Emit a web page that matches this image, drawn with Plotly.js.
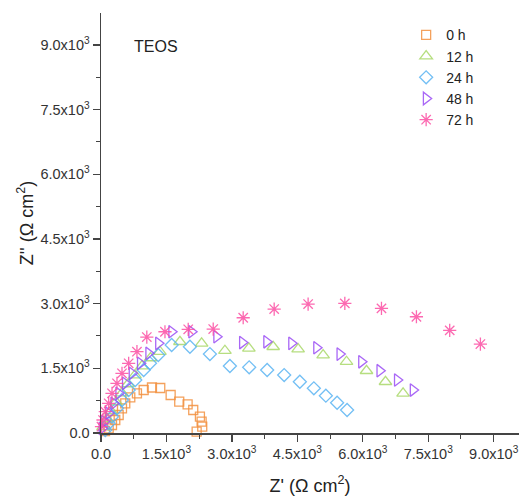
<!DOCTYPE html>
<html>
<head>
<meta charset="utf-8">
<script src="https://cdn.plot.ly/plotly-3.0.1.min.js"></script>
<style>html,body{margin:0;padding:0;background:#fff;}#chart{width:520px;height:496px;}</style>
</head>
<body>
<div id="chart"></div>
<script>
// Data (Z' , Z'' in ohm cm^2)
const seriesNames = ["0 h", "12 h", "24 h", "48 h", "72 h"];

const x0h = [92, 176, 252, 327, 405, 481, 556, 671, 824, 978, 1168, 1358, 1596, 1793, 1985, 2114, 2267, 2306, 2320, 2192];
const y0h = [46, 109, 185, 301, 417, 573, 688, 828, 920, 997, 1055, 1043, 881, 726, 665, 533, 378, 262, 146, 30];

const x12h = [46, 137, 229, 344, 481, 618, 779, 939, 1134, 1351, 1809, 2306, 2840, 3389, 3946, 4518, 5091, 5627, 6085, 6520, 6923];
const y12h = [139, 325, 510, 719, 927, 1136, 1344, 1553, 1739, 1885, 2116, 2079, 1908, 1963, 2000, 1947, 1808, 1653, 1444, 1189, 920];

const x24h = [98, 176, 252, 366, 481, 634, 785, 978, 1122, 1312, 1619, 2038, 2496, 2954, 3396, 3808, 4198, 4557, 4878, 5153, 5411, 5640];
const y24h = [70, 225, 378, 573, 765, 997, 1229, 1460, 1616, 1808, 2040, 2000, 1831, 1553, 1523, 1460, 1344, 1189, 1036, 865, 702, 533];

const x48h = [23, 76, 176, 291, 405, 556, 710, 900, 1092, 1317, 1619, 2077, 2650, 3240, 3795, 4367, 4940, 5473, 5970, 6389, 6790, 7152];
const y48h = [109, 262, 457, 688, 920, 1152, 1384, 1616, 1847, 2079, 2348, 2348, 2232, 2098, 2116, 2079, 1977, 1831, 1652, 1444, 1229, 997];

const x72h = [11, 46, 98, 176, 252, 366, 481, 634, 824, 1050, 1466, 1999, 2572, 3259, 3969, 4747, 5588, 6428, 7229, 7992, 8695];
const y72h = [146, 301, 494, 688, 920, 1152, 1384, 1616, 1885, 2225, 2348, 2404, 2411, 2673, 2874, 2990, 3006, 2890, 2696, 2380, 2063];

const tickVals = [0, 1500, 3000, 4500, 6000, 7500, 9000];
const tickText = ["0.0", "1.5x10<sup>3</sup>", "3.0x10<sup>3</sup>", "4.5x10<sup>3</sup>", "6.0x10<sup>3</sup>", "7.5x10<sup>3</sup>", "9.0x10<sup>3</sup>"];

const colors = ["#f2913f", "#a9d86a", "#5ab4f2", "#9a4cf5", "#fb4fa3"];
const symbols = ["square-open", "triangle-up-open", "diamond-open", "triangle-right-open", "asterisk-open"];
const sizes = [9, 11, 10, 11, 11];

const xs = [x0h, x12h, x24h, x48h, x72h];
const ys = [y0h, y12h, y24h, y48h, y72h];

const traces = seriesNames.map((n, i) => ({
  x: xs[i], y: ys[i], name: n, type: "scatter", mode: "markers",
  cliponaxis: false,
  marker: {symbol: symbols[i], size: sizes[i], color: colors[i], opacity: 0.85, line: {color: colors[i], width: 1.3}}
}));

const axisCommon = {
  showline: true, linecolor: "#444", linewidth: 1.5, mirror: false,
  showgrid: false, zeroline: false,
  ticks: "outside", ticklen: 7, tickwidth: 1.2, tickcolor: "#444",
  tickvals: tickVals, ticktext: tickText,
  tickfont: {family: "Liberation Sans, Arial, sans-serif", size: 14.5, color: "#333"},
  minor: {ticks: "outside", ticklen: 4, tickwidth: 1, tickcolor: "#444", dtick: 750, tick0: 0, showgrid: false}
};

const layout = {
  width: 520, height: 496,
  margin: {l: 101, r: 1, t: 13, b: 63},
  paper_bgcolor: "#fff", plot_bgcolor: "#fff",
  font: {family: "Liberation Sans, Arial, sans-serif", color: "#222"},
  xaxis: Object.assign({}, axisCommon, {
    range: [0, 9580],
    title: {text: "Z' (Ω cm<sup>2</sup>)", font: {size: 18, color: "#222"}, standoff: 19}
  }),
  yaxis: Object.assign({}, axisCommon, {
    range: [0, 9740],
    title: {text: "Z'' (Ω cm<sup>2</sup>)", font: {size: 18, color: "#222"}, standoff: 2}
  }),
  showlegend: true,
  legend: {
    x: 0.73, y: 0.985, xanchor: "left", yanchor: "top",
    bgcolor: "rgba(0,0,0,0)", borderwidth: 0,
    font: {size: 14, color: "#222"}
  },
  annotations: [{
    text: "TEOS", x: 0.075, y: 0.92, xref: "paper", yref: "paper",
    xanchor: "left", yanchor: "middle", showarrow: false,
    font: {size: 16, color: "#222"}
  }]
};

Plotly.newPlot("chart", traces, layout, {displayModeBar: false, staticPlot: true});
</script>
</body>
</html>
